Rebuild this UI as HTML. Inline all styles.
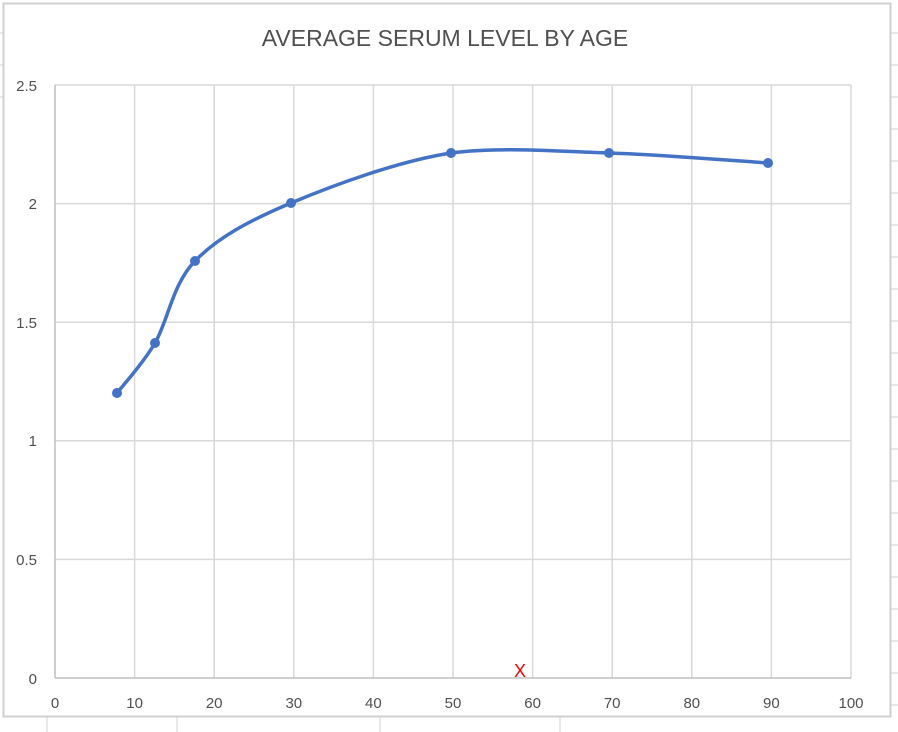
<!DOCTYPE html>
<html><head><meta charset="utf-8"><style>
html,body{margin:0;padding:0;background:#fff;width:898px;height:732px;overflow:hidden}
svg{display:block}
text{font-family:"Liberation Sans",sans-serif;fill:#505050}
</style></head><body>
<svg width="898" height="732" viewBox="0 0 898 732" xmlns="http://www.w3.org/2000/svg">
<rect x="0" y="0" width="898" height="732" fill="#fff"/>
<g stroke="#d0d0d0" stroke-width="1">
<line x1="0" y1="33" x2="3" y2="33"/><line x1="0" y1="65" x2="3" y2="65"/><line x1="0" y1="97" x2="3" y2="97"/>
<line x1="891" y1="33" x2="898" y2="33"/><line x1="891" y1="65" x2="898" y2="65"/><line x1="891" y1="97" x2="898" y2="97"/>
<line x1="891" y1="129" x2="898" y2="129"/><line x1="891" y1="161" x2="898" y2="161"/><line x1="891" y1="193" x2="898" y2="193"/>
<line x1="891" y1="225" x2="898" y2="225"/><line x1="891" y1="257" x2="898" y2="257"/><line x1="891" y1="289" x2="898" y2="289"/>
<line x1="891" y1="321" x2="898" y2="321"/><line x1="891" y1="353" x2="898" y2="353"/><line x1="891" y1="385" x2="898" y2="385"/>
<line x1="891" y1="417" x2="898" y2="417"/><line x1="891" y1="449" x2="898" y2="449"/><line x1="891" y1="481" x2="898" y2="481"/>
<line x1="891" y1="513" x2="898" y2="513"/><line x1="891" y1="545" x2="898" y2="545"/><line x1="891" y1="577" x2="898" y2="577"/>
<line x1="891" y1="609" x2="898" y2="609"/><line x1="891" y1="641" x2="898" y2="641"/><line x1="891" y1="673" x2="898" y2="673"/>
<line x1="891" y1="705" x2="898" y2="705"/>
<line x1="47" y1="717" x2="47" y2="732"/><line x1="177" y1="717" x2="177" y2="732"/><line x1="380" y1="717" x2="380" y2="732"/><line x1="560" y1="717" x2="560" y2="732"/>
</g>
<rect x="3.5" y="3.5" width="887" height="713" fill="#fff" stroke="#d0d0d0" stroke-width="2"/>
<text x="445" y="46" font-size="23" text-anchor="middle">AVERAGE SERUM LEVEL BY AGE</text>
<g stroke="#d9d9d9" stroke-width="1.5">
<line x1="55" y1="85" x2="851" y2="85"/><line x1="55" y1="203.6" x2="851" y2="203.6"/>
<line x1="55" y1="322.2" x2="851" y2="322.2"/><line x1="55" y1="440.8" x2="851" y2="440.8"/>
<line x1="55" y1="559.4" x2="851" y2="559.4"/>
<line x1="134.6" y1="85" x2="134.6" y2="678"/><line x1="214.2" y1="85" x2="214.2" y2="678"/>
<line x1="293.8" y1="85" x2="293.8" y2="678"/><line x1="373.4" y1="85" x2="373.4" y2="678"/>
<line x1="453" y1="85" x2="453" y2="678"/><line x1="532.6" y1="85" x2="532.6" y2="678"/>
<line x1="612.2" y1="85" x2="612.2" y2="678"/><line x1="691.8" y1="85" x2="691.8" y2="678"/>
<line x1="771.4" y1="85" x2="771.4" y2="678"/><line x1="851" y1="85" x2="851" y2="678"/>
</g>
<g stroke="#bfbfbf" stroke-width="1.5">
<line x1="55" y1="85" x2="55" y2="678"/><line x1="55" y1="678" x2="851" y2="678"/>
</g>
<g font-size="15" text-anchor="end">
<text x="37" y="91">2.5</text><text x="37" y="209">2</text><text x="37" y="328">1.5</text>
<text x="37" y="446">1</text><text x="37" y="565">0.5</text><text x="37" y="684">0</text>
</g>
<g font-size="15" text-anchor="middle">
<text x="55" y="708">0</text><text x="134.6" y="708">10</text><text x="214.2" y="708">20</text>
<text x="293.8" y="708">30</text><text x="373.4" y="708">40</text><text x="453" y="708">50</text>
<text x="532.6" y="708">60</text><text x="612.2" y="708">70</text><text x="691.8" y="708">80</text>
<text x="771.4" y="708">90</text><text x="851" y="708">100</text>
</g>
<path d="M117,393 C123.3,384.7 142,365 155,343 C168,321 172.3,284.3 195,261 C217.7,237.7 248.3,221 291,203 C333.7,185 398,161.3 451,153 C500,146.5 556.2,151.3 609,153 C661.8,154.7 741.5,161.3 768,163" fill="none" stroke="#4472c4" stroke-width="3.5" stroke-linecap="round"/>
<g fill="#4472c4">
<circle cx="117" cy="393" r="5"/><circle cx="155" cy="343" r="5"/><circle cx="195" cy="261" r="5"/>
<circle cx="291" cy="203" r="5"/><circle cx="451" cy="153" r="5"/><circle cx="609" cy="153" r="5"/>
<circle cx="768" cy="163" r="5"/>
</g>
<text x="520" y="677" font-size="18" text-anchor="middle" style="fill:#ff0000">X</text>
</svg>
</body></html>
